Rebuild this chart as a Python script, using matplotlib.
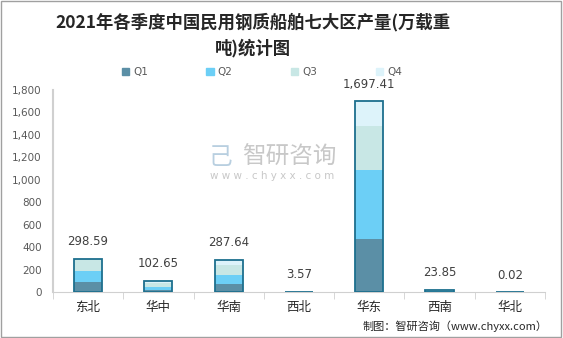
import matplotlib.pyplot as plt
import numpy as np
from matplotlib.patches import Rectangle

plt.rcParams['font.family'] = ['Noto Sans CJK SC', 'DejaVu Sans']

# DATA
regions = ['东北', '华中', '华南', '西北', '华东', '西南', '华北']
q1 = [90, 20, 77, 1.0, 472, 6.0, 0.005]
q2 = [100, 28, 80, 1.0, 618, 6.0, 0.005]
q3 = [104.59, 35, 85, 1.0, 392, 6.0, 0.005]
q4 = [4.0, 19.65, 45.64, 0.57, 215.41, 5.85, 0.005]
totals = [298.59, 102.65, 287.64, 3.57, 1697.41, 23.85, 0.02]
series_names = ['Q1', 'Q2', 'Q3', 'Q4']
colors = ['#5B8FA6', '#6CCFF6', '#C8E7E5', '#DDF3FA']
edge = '#1D6F8E'

fig = plt.figure(figsize=(5.63, 3.38), dpi=100)
ax = fig.add_axes([0.094, 0.135, 0.874, 0.599])

x = np.arange(len(regions))
w = 0.4
bottom = np.zeros(len(regions))
for vals, name, c in zip([q1, q2, q3, q4], series_names, colors):
    ax.bar(x, vals, w, bottom=bottom, color=c, label=name, linewidth=0)
    bottom += np.array(vals)

# outline around each stack
for xi, t in zip(x, totals):
    ax.add_patch(Rectangle((xi - w / 2, 0), w, t, fill=False,
                           edgecolor=edge, linewidth=1.3, zorder=3))
    ax.text(xi, t + 95, '{:,.2f}'.format(t), ha='center', va='bottom',
            fontsize=8.5, color='#404040', family='DejaVu Sans')

ax.set_xlim(-0.5, len(regions) - 0.5)
ax.set_ylim(0, 1800)
ax.set_yticks(np.arange(0, 1801, 200))
ax.set_yticklabels(['{:,}'.format(v) for v in range(0, 1801, 200)],
                   fontsize=7.5, color='#595959', family='DejaVu Sans')
ax.tick_params(axis='y', length=0, pad=8)
ax.set_xticks(x)
ax.set_xticklabels(regions, fontsize=9, color='#262626')
ax.set_xticks(np.arange(-0.5, len(regions)), minor=True)
ax.tick_params(axis='x', which='major', length=0, pad=6)
ax.tick_params(axis='x', which='minor', length=5, color='#d0d0d0', direction='out')
for s in ['top', 'right']:
    ax.spines[s].set_visible(False)
ax.spines['left'].set_color('#d0d0d0')
ax.spines['left'].set_linewidth(1.5)
ax.spines['bottom'].set_color('#d0d0d0')

# legend
handles = [Rectangle((0, 0), 1, 1, color=c) for c in colors]
leg = fig.legend(handles, series_names, loc='center', bbox_to_anchor=(0.465, 0.787),
                 ncol=4, frameon=False, fontsize=7.5, handlelength=0.7,
                 handleheight=0.7, columnspacing=5.6, handletextpad=0.4)
for t in leg.get_texts():
    t.set_color('#595959')
    t.set_family('DejaVu Sans')

# title
fig.text(0.45, 0.935, '2021年各季度中国民用钢质船舶七大区产量(万载重', ha='center', va='center',
         fontsize=12.5, fontweight='bold', color='#262626')
fig.text(0.45, 0.857, '吨)统计图', ha='center', va='center',
         fontsize=12.5, fontweight='bold', color='#262626')

# watermark
fig.text(0.43, 0.535, '智研咨询', fontsize=17, color='#c8c8c8', ha='left', va='center')
fig.text(0.373, 0.48, 'w w w . c h y x x . c o m', fontsize=7.5, color='#c8c8c8',
         ha='left', va='center', family='DejaVu Sans')
fig.text(0.37, 0.535, '己', fontsize=17, color='#b8cfe0', ha='left', va='center')

# source
fig.text(0.972, 0.035, '制图：智研咨询（www.chyxx.com）', ha='right', va='center',
         fontsize=8, color='#262626')

# border
fig.add_artist(Rectangle((0.002, 0.003), 0.995, 0.994, transform=fig.transFigure,
                         fill=False, edgecolor='#a0a0a0', linewidth=1))

fig.savefig('out.png', dpi=100)
